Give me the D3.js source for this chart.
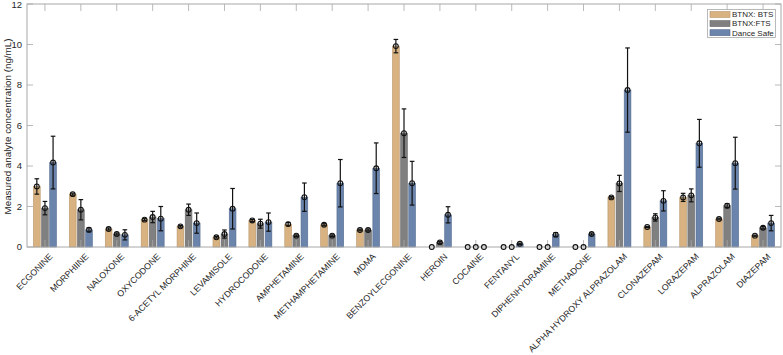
<!DOCTYPE html>
<html lang="en">
<head>
<meta charset="UTF-8">
<title>Measured analyte concentration</title>
<style>
    body { margin: 0; background: #fff; font-family: "Liberation Sans", Arial, sans-serif; }
    svg text { fill: #262626; }
</style>
</head>
<body>
<div id="chart"></div>
<script src="https://d3js.org/d3.v7.min.js"></script>
<script>
// analytes along the x axis
const categories = ["ECGONINE", "MORPHIINE", "NALOXONE", "OXYCODONE", "6-ACETYL MORPHINE",
    "LEVAMISOLE", "HYDROCODONE", "AMPHETAMINE", "METHAMPHETAMINE", "MDMA", "BENZOYLECGONINE",
    "HEROIN", "COCAINE", "FENTANYL", "DIPHENHYDRAMINE", "METHADONE", "ALPHA HYDROXY ALPRAZOLAM",
    "CLONAZEPAM", "LORAZEPAM", "ALPRAZOLAM", "DIAZEPAM"];

const seriesNames = ["BTNX: BTS", "BTNX:FTS", "Dance Safe"];

const bts      = [2.99, 2.61, 0.89, 1.35, 1.02, 0.48, 1.31, 1.13, 1.10, 0.84, 9.92, 0, 0, 0, 0, 0, 2.45, 0.99, 2.45, 1.38, 0.56];
const btsErr   = [0.38, 0.05, 0.05, 0.05, 0.04, 0.04, 0.05, 0.08, 0.05, 0.04, 0.33, 0, 0, 0, 0, 0, 0.04, 0.03, 0.20, 0.04, 0.03];
const fts      = [1.92, 1.84, 0.64, 1.48, 1.84, 0.64, 1.15, 0.56, 0.56, 0.84, 5.62, 0.23, 0, 0, 0, 0, 3.14, 1.46, 2.55, 2.04, 0.95];
const ftsErr   = [0.33, 0.50, 0.05, 0.28, 0.28, 0.20, 0.22, 0.04, 0.04, 0.05, 1.20, 0.05, 0, 0, 0, 0, 0.40, 0.18, 0.32, 0.10, 0.06];
const dance    = [4.17, 0.85, 0.60, 1.40, 1.18, 1.89, 1.23, 2.46, 3.15, 3.89, 3.15, 1.59, 0, 0.16, 0.61, 0.64, 7.75, 2.28, 5.12, 4.14, 1.18];
const danceErr = [1.30, 0.10, 0.25, 0.60, 0.50, 1.00, 0.45, 0.70, 1.17, 1.25, 1.08, 0.40, 0, 0.03, 0.10, 0.05, 2.08, 0.50, 1.18, 1.28, 0.38];

const yTicks = [0, 2, 4, 6, 8, 10, 12];
const colors = ["#d8b381", "#808080", "#6b84ab"];
const edges = ["#b8946a", "#6a6a6a", "#566d92"];

const W = 783, H = 355;
const margin = { top: 4, right: 2, bottom: 108, left: 27 };

const svg = d3.select("#chart").append("svg")
    .attr("width", W).attr("height", H);

const x = d3.scaleBand().domain(categories)
    .range([margin.left, W - margin.right]).paddingInner(0).paddingOuter(0);
const y = d3.scaleLinear().domain([0, 12]).range([H - margin.bottom, margin.top]);
const sub = d3.scaleBand().domain([0, 1, 2])
    .range([-x.bandwidth() * 0.32, x.bandwidth() * 0.32]).paddingInner(0.17);

const series = [
    { vals: bts, errs: btsErr },
    { vals: fts, errs: ftsErr },
    { vals: dance, errs: danceErr }
];

const rows = [];
series.forEach((s, si) => {
    categories.forEach((c, i) => rows.push({ c, si, v: s.vals[i], e: s.errs[i] }));
});
const cx = d => x(d.c) + x.bandwidth() / 2 + sub(d.si) + sub.bandwidth() / 2;

// bars
svg.append("g").selectAll("rect")
    .data(rows.filter(d => d.v > 0))
    .join("rect")
    .attr("x", d => x(d.c) + x.bandwidth() / 2 + sub(d.si))
    .attr("y", d => y(d.v))
    .attr("width", sub.bandwidth())
    .attr("height", d => y(0) - y(d.v))
    .attr("fill", d => colors[d.si])
    .attr("stroke", d => edges[d.si])
    .attr("stroke-width", 0.6);

// box + ticks
const axisCol = "#a8a8a8";
const gx = svg.append("g");
gx.append("rect")
    .attr("x", margin.left).attr("y", margin.top)
    .attr("width", W - margin.right - margin.left)
    .attr("height", y(0) - margin.top)
    .attr("fill", "none").attr("stroke", axisCol).attr("stroke-width", 1);

categories.forEach(c => {
    const cxx = x(c) + x.bandwidth() / 2;
    gx.append("line").attr("x1", cxx).attr("x2", cxx)
        .attr("y1", y(0)).attr("y2", y(0) - 7).attr("stroke", axisCol).attr("stroke-width", 0.8);
    gx.append("line").attr("x1", cxx).attr("x2", cxx)
        .attr("y1", margin.top).attr("y2", margin.top + 7).attr("stroke", axisCol).attr("stroke-width", 0.8);
});
yTicks.forEach(t => {
    gx.append("line").attr("x1", margin.left).attr("x2", margin.left + 6)
        .attr("y1", y(t)).attr("y2", y(t)).attr("stroke", axisCol).attr("stroke-width", 0.8);
    gx.append("line").attr("x1", W - margin.right).attr("x2", W - margin.right - 6)
        .attr("y1", y(t)).attr("y2", y(t)).attr("stroke", axisCol).attr("stroke-width", 0.8);
    svg.append("text")
        .attr("x", margin.left - 5).attr("y", Math.max(y(t), 4.5))
        .attr("dy", "0.35em").attr("text-anchor", "end")
        .attr("font-size", 9.5).text(t);
});

// x labels
svg.append("g").selectAll("text")
    .data(categories)
    .join("text")
    .attr("transform", d => `translate(${x(d) + x.bandwidth() / 2 + 6},${y(0) + 8}) rotate(-45)`)
    .attr("text-anchor", "end")
    .attr("dy", "0.35em")
    .attr("font-size", 8.8)
    .text(d => d);

// y label
svg.append("text")
    .attr("transform", `translate(8,${(margin.top + y(0)) / 2 + 1}) rotate(-90)`)
    .attr("text-anchor", "middle")
    .attr("dy", "0.35em")
    .attr("font-size", 9.8)
    .text("Measured analyte concentration (ng/mL)");

// error bars
const eb = svg.append("g").attr("stroke", "#111").attr("stroke-width", 1.2);
rows.filter(d => d.e > 0).forEach(d => {
    const px = cx(d);
    eb.append("line").attr("x1", px).attr("x2", px)
        .attr("y1", y(d.v + d.e)).attr("y2", y(d.v - d.e));
    [d.v + d.e, d.v - d.e].forEach(v => {
        eb.append("line").attr("x1", px - 2.3).attr("x2", px + 2.3)
            .attr("y1", y(v)).attr("y2", y(v));
    });
});

// mean markers
svg.append("g").selectAll("circle")
    .data(rows)
    .join("circle")
    .attr("cx", cx)
    .attr("cy", d => y(d.v))
    .attr("r", 2.4)
    .attr("fill", "none")
    .attr("stroke", "#111")
    .attr("stroke-width", 1.1);

// legend
const lg = svg.append("g");
lg.append("rect").attr("x", 707.5).attr("y", 9.5).attr("width", 68).attr("height", 28)
    .attr("fill", "#fff").attr("stroke", "#a8a8a8").attr("stroke-width", 0.8);
seriesNames.forEach((n, i) => {
    const cy = 14.5 + i * 9.1;
    lg.append("rect").attr("x", 710).attr("y", cy - 3).attr("width", 20).attr("height", 6)
        .attr("fill", colors[i]).attr("stroke", edges[i]).attr("stroke-width", 0.6);
    lg.append("text").attr("x", 732).attr("y", cy).attr("dy", "0.35em")
        .attr("font-size", 8).text(n);
});
</script>
</body>
</html>
